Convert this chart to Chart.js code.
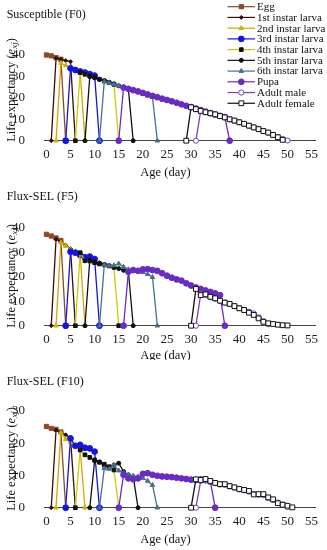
<!DOCTYPE html>
<html>
<head>
    <title>Age-stage life expectancy</title>
    <script src="https://cdn.jsdelivr.net/npm/chart.js"></script>
    <style>
        body { margin: 0; background: #fff; }
        canvas { display: block; }
    </style>
</head>
<body>

<canvas id="panelF0" width="327" height="180"></canvas>
<canvas id="panelF5" width="327" height="180"></canvas>
<canvas id="panelF10" width="327" height="190"></canvas>

<script>
    const stageNames = ['Egg', '1st instar larva', '2nd instar larva', '3rd instar larva', '4th instar larva',
        '5th instar larva', '6th instar larva', 'Pupa', 'Adult male', 'Adult female'];

    // first day (age) on which each stage has a value: egg, L1..L6, pupa, male, female
    const f0Start = [0, 2, 3, 5, 7, 9, 12, 16, 32, 30];
    const f0Egg = [40, 39.6, 38.8, 38.0];
    const f0L1 = [38.5, 38.0, 37.4, 36.9];
    const f0L2 = [36.2, 35.2, 34.2, 33.2, 32.3];
    const f0L3 = [33.8, 33.0, 32.3, 31.8, 31.1, 30.4];
    const f0L4 = [31.8, 31.0, 30.2, 29.6, 28.7, 27.9, 27.1, 26.3];
    const f0L5 = [29.9, 29.3, 28.6, 28.0, 27.3, 26.6, 25.6, 24.8, 24.0];
    const f0L6 = [27.6, 27.0, 26.4, 25.6, 24.9, 24.2, 23.4, 22.6, 21.8, 21.0, 20.3];
    const f0Pupa = [24.8, 24.2, 23.6, 23.0, 22.3, 21.6, 20.9, 20.3, 19.6, 19.0, 18.4, 17.7, 17.0, 16.3,
        15.7, 15.0, 14.3, 13.6, 12.9, 12.2, 11.6, 11.0];
    const f0Male = [13.9, 13.3, 12.8, 12.2, 11.5, 10.8, 10.0, 9.3, 8.6, 7.8, 7.0, 6.2, 5.4, 4.5, 3.7,
        2.7, 1.7, 0.8, 0.1];
    const f0Female = [15.6, 14.7, 13.9, 13.3, 12.8, 12.3, 11.5, 10.9, 10.0, 9.4, 8.6, 7.9, 7.0, 6.2,
        5.4, 4.5, 3.8, 2.7, 1.6, 0.4];

    const f5Start = [0, 2, 3, 5, 7, 9, 12, 17, 32, 31];
    const f5Egg = [37.3, 36.6, 35.8, 34.8];
    const f5L1 = [35.3, 34.3, 32.8, 31.5];
    const f5L2 = [34.0, 32.5, 31.2, 30.3, 29.3];
    const f5L3 = [30.2, 29.8, 28.8, 27.9, 28.2, 27.2];
    const f5L4 = [29.8, 26.5, 26.4, 25.7, 25.2, 24.8, 24.4, 23.8];
    const f5L5 = [26.8, 26.0, 25.6, 25.0, 24.5, 24.0, 23.3, 22.6, 22.2];
    const f5L6 = [24.8, 24.5, 24.6, 25.3, 24.0, 23.0, 22.6, 22.2, 21.8, 21.0, 19.8];
    const f5Pupa = [22.0, 22.7, 22.4, 23.0, 23.1, 22.7, 22.4, 21.4, 20.4, 19.6, 18.9, 18.4, 17.3, 16.4,
        15.6, 15.0, 14.4, 13.8, 13.2, 12.5];
    const f5Male = [12.8, 12.5, 11.6, 11.0, 10.2, 9.5, 8.9, 8.0, 7.2, 6.5, 5.7, 5.0, 3.4, 1.8, 0.6];
    const f5Female = [15.0, 12.5, 12.8, 11.8, 11.2, 10.2, 9.4, 8.9, 8.0, 7.1, 6.4, 5.3, 4.4, 3.0, 1.6,
        1.0, 0.7, 0.4, 0.2, 0.1];

    const f10Start = [0, 2, 3, 5, 7, 10, 12, 16, 32, 31];
    const f10Egg = [25.2, 24.6, 24.3, 23.5];
    const f10L1 = [24.1, 23.4, 22.6, 21.6];
    const f10L2 = [23.3, 21.2, 20.3, 19.2, 18.0];
    const f10L3 = [21.5, 19.2, 19.5, 18.6, 18.4, 17.4];
    const f10L4 = [17.9, 16.4, 15.6, 14.8, 14.1, 13.5, 12.7, 11.7];
    const f10L5 = [14.6, 14.2, 13.0, 12.6, 13.2, 13.8, 11.2, 10.2, 9.6];
    const f10L6 = [12.2, 12.0, 13.3, 11.5, 10.8, 10.2, 9.9, 9.6, 9.2, 8.3, 7.0];
    const f10Pupa = [10.2, 9.1, 8.8, 9.1, 10.5, 10.7, 10.2, 9.9, 9.7, 9.6, 9.5, 9.3, 9.1, 8.9, 8.7,
        8.6, 8.8, 8.5, 8.1];
    const f10Male = [8.3, 8.7, 8.2, 7.6, 7.2, 7.1, 6.6, 6.2, 5.7, 5.4, 5.0, 4.3, 4.0, 3.9, 3.0, 2.4,
        1.6, 1.0, 0.2];
    const f10Female = [8.8, 8.6, 8.9, 8.3, 7.7, 7.3, 7.3, 6.7, 6.3, 5.8, 5.5, 5.2, 4.1, 4.2, 4.2, 3.2,
        2.6, 1.4, 0.9, 0.6, 0.1];

    // styles
    const lineColors = ['#8B4A2B', '#3A0B0B', '#D9A300', '#1414E0', '#CCCC00',
        '#111111', '#44708F', '#6A2BC4', '#7B3FB8', '#111111'];
    const markerFill = ['#8B4A2B', '#3A0B0B', '#C8B400', '#1414E0', '#111111',
        '#111111', '#44708F', '#6A2BC4', '#ffffff', '#ffffff'];
    const markerEdge = ['#8B4A2B', '#3A0B0B', '#C8B400', '#1414E0', '#111111',
        '#111111', '#44708F', '#6A2BC4', '#7B3FB8', '#111111'];
    const markerStyles = ['rect', 'rectRot', 'triangle', 'circle', 'rect',
        'circle', 'triangle', 'circle', 'circle', 'rect'];
    const markerSizes = [3, 2, 2.6, 2.9, 2.6, 2, 2.6, 2.9, 2.6, 3.4];

    const serif = '"Liberation Serif", "Times New Roman", serif';

    // zero before a stage appears, values, zero after it ends (immature stages only)
    function buildPoints(start, values, closeToZero) {
        const pts = [];
        if (start > 0) pts.push({x: start - 1, y: 0});
        values.forEach((v, i) => pts.push({x: start + i, y: v}));
        if (closeToZero) pts.push({x: start + values.length, y: 0});
        return pts;
    }

    function drawYTitle(ctx, cx, cy) {
        const parts = [
            ['Life expectancy (', '12.5px ' + serif, 0],
            ['e', 'italic 12.5px ' + serif, 0],
            ['xj', 'italic 9px ' + serif, 3],
            [')', '12.5px ' + serif, 0]
        ];
        let total = 0;
        parts.forEach(p => { ctx.font = p[1]; total += ctx.measureText(p[0]).width; });
        ctx.save();
        ctx.translate(cx, cy);
        ctx.rotate(-Math.PI / 2);
        ctx.textAlign = 'left';
        ctx.textBaseline = 'middle';
        let x = -total / 2;
        parts.forEach(p => {
            ctx.font = p[1];
            ctx.fillText(p[0], x, p[2]);
            x += ctx.measureText(p[0]).width;
        });
        ctx.restore();
    }

    function panelText(cfg) {
        return {
            id: 'panelText',
            afterDraw(chart) {
                const ctx = chart.ctx;
                ctx.save();
                ctx.fillStyle = '#111';
                ctx.font = '12px ' + serif;
                ctx.textBaseline = 'middle';
                ctx.textAlign = 'left';
                ctx.fillText(cfg.title, 6.7, cfg.titleY);
                ctx.textAlign = 'center';
                ctx.font = '12.5px ' + serif;
                ctx.fillText('Age (day)', 165.5, cfg.xTitleY);
                drawYTitle(ctx, 12, cfg.yTitleY);
                ctx.restore();
            }
        };
    }

    const stageLegend = {
        id: 'stageLegend',
        afterDraw(chart) {
            const ctx = chart.ctx;
            ctx.save();
            stageNames.forEach((name, i) => {
                const y = 6.7 + i * 10.73;
                ctx.strokeStyle = lineColors[i];
                ctx.lineWidth = 1.2;
                ctx.beginPath();
                ctx.moveTo(227.5, y);
                ctx.lineTo(255, y);
                ctx.stroke();
                ctx.fillStyle = markerFill[i];
                ctx.strokeStyle = markerEdge[i];
                ctx.lineWidth = 1;
                Chart.helpers.drawPoint(ctx, {
                    pointStyle: markerStyles[i], radius: markerSizes[i], borderWidth: 1, rotation: 0
                }, 241.3, y);
                ctx.fillStyle = '#111';
                ctx.font = '11px ' + serif;
                ctx.textAlign = 'left';
                ctx.textBaseline = 'middle';
                ctx.fillText(name, 257, y + 0.5);
            });
            ctx.restore();
        }
    };

    function makePanel(id, cfg, extraPlugins) {
        const datasets = stageNames.map((name, i) => ({
            label: name,
            data: buildPoints(cfg.start[i], cfg.values[i], i < 8),
            showLine: true,
            borderColor: lineColors[i],
            backgroundColor: markerFill[i],
            borderWidth: 1.3,
            pointStyle: markerStyles[i],
            pointRadius: markerSizes[i],
            pointBackgroundColor: markerFill[i],
            pointBorderColor: markerEdge[i],
            pointBorderWidth: 1,
            clip: false,
            order: -i // later stages on top, like the original
        }));

        const ctx = document.getElementById(id).getContext('2d');
        return new Chart(ctx, {
            type: 'scatter',
            data: { datasets: datasets },
            options: {
                responsive: false,
                animation: false,
                layout: { padding: { top: cfg.top, right: 12, left: 0, bottom: 0 } },
                plugins: {
                    legend: { display: false },
                    tooltip: { enabled: false }
                },
                scales: {
                    x: {
                        type: 'linear',
                        min: -0.5,
                        max: 55.7,
                        afterFit: s => { s.height = cfg.xHeight; },
                        grid: { display: true, drawOnChartArea: false, drawTicks: false },
                        border: { display: true, color: '#444', width: 1 },
                        ticks: {
                            stepSize: 5,
                            includeBounds: false,
                            autoSkip: false,
                            maxRotation: 0,
                            padding: 6,
                            color: '#222',
                            font: { family: serif, size: 13 },
                            callback: v => (v % 5 === 0 ? v : '')
                        }
                    },
                    y: {
                        min: 0,
                        max: cfg.yMax,
                        afterFit: s => { s.width = 44; },
                        grid: { display: false },
                        border: { display: false },
                        ticks: {
                            stepSize: cfg.yStep,
                            padding: 11,
                            color: '#222',
                            font: { family: serif, size: 13 }
                        }
                    }
                }
            },
            plugins: [panelText(cfg)].concat(extraPlugins || [])
        });
    }

    makePanel('panelF0', {
        title: 'Susceptible (F0)', titleY: 15, xTitleY: 173, yTitleY: 90,
        top: 55, xHeight: 39.3, yMax: 40, yStep: 10,
        start: f0Start,
        values: [f0Egg, f0L1, f0L2, f0L3, f0L4, f0L5, f0L6, f0Pupa, f0Male, f0Female]
    }, [stageLegend]);

    makePanel('panelF5', {
        title: 'Flux-SEL (F5)', titleY: 17, xTitleY: 176, yTitleY: 96,
        top: 47.7, xHeight: 34.3, yMax: 40, yStep: 10,
        start: f5Start,
        values: [f5Egg, f5L1, f5L2, f5L3, f5L4, f5L5, f5L6, f5Pupa, f5Male, f5Female]
    });

    makePanel('panelF10', {
        title: 'Flux-SEL (F10)', titleY: 22, xTitleY: 180, yTitleY: 99,
        top: 51, xHeight: 42.3, yMax: 30, yStep: 5,
        start: f10Start,
        values: [f10Egg, f10L1, f10L2, f10L3, f10L4, f10L5, f10L6, f10Pupa, f10Male, f10Female]
    });
</script>

</body>
</html>
